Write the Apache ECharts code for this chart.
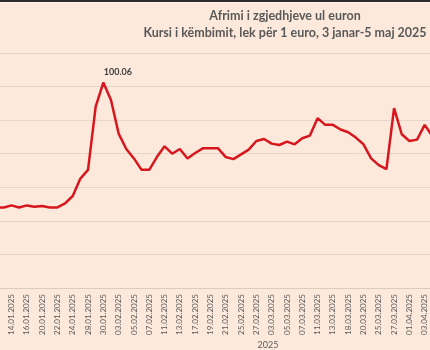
<!DOCTYPE html>
<html>
<head>
<meta charset="utf-8">
<script src="https://cdn.jsdelivr.net/npm/echarts@6/dist/echarts.min.js"></script>
<style>
html,body{margin:0;padding:0;background:#fde9dc;}
#c{width:430px;height:350px;}
</style>
</head>
<body>
<div id="c"></div>
<script>
const categories = ['10.01.2025','13.01.2025','14.01.2025','15.01.2025','16.01.2025','17.01.2025','20.01.2025','21.01.2025','22.01.2025','23.01.2025','24.01.2025','27.01.2025','28.01.2025','29.01.2025','30.01.2025','31.01.2025','03.02.2025','04.02.2025','05.02.2025','06.02.2025','07.02.2025','10.02.2025','11.02.2025','12.02.2025','13.02.2025','14.02.2025','17.02.2025','18.02.2025','19.02.2025','20.02.2025','21.02.2025','24.02.2025','25.02.2025','26.02.2025','27.02.2025','28.02.2025','03.03.2025','04.03.2025','05.03.2025','06.03.2025','07.03.2025','10.03.2025','11.03.2025','12.03.2025','13.03.2025','17.03.2025','18.03.2025','19.03.2025','20.03.2025','21.03.2025','25.03.2025','26.03.2025','27.03.2025','28.03.2025','01.04.2025','02.04.2025','03.04.2025','04.04.2025','07.04.2025'];
const rates = [98.20,98.20,98.23,98.20,98.23,98.21,98.22,98.20,98.20,98.26,98.37,98.63,98.76,99.70,100.06,99.80,99.30,99.07,98.93,98.76,98.76,98.95,99.11,99.00,99.07,98.93,99.01,99.08,99.08,99.08,98.95,98.92,98.99,99.06,99.19,99.22,99.15,99.13,99.18,99.14,99.23,99.27,99.53,99.43,99.43,99.36,99.32,99.24,99.14,98.93,98.83,98.77,99.68,99.29,99.19,99.21,99.43,99.26,99.20];
const yMin = 97, yMax = 100.5, yStep = 0.5;
const titleLines = ['Afrimi i zgjedhjeve ul euron', 'Kursi i këmbimit, lek për 1 euro, 3 janar-5 maj 2025'];
const axisName = '2025';
const peakIndex = 14;

const font = 'Lato, "Liberation Sans", sans-serif';
const chart = echarts.init(document.getElementById('c'), null, {renderer:'canvas'});
const seriesData = rates.map((v, i) => i === peakIndex ? {
  value: v,
  symbol: 'circle', symbolSize: 1,
  itemStyle: {color:'#d7161e'},
  label: {show:true, position:'right', distance:0, offset:[0,-10], formatter: p => Number(p.value).toFixed(2),
          color:'#404040', fontSize:9, fontWeight:'bold', fontFamily:font}
} : v);

chart.setOption({
  backgroundColor:'#fde9dc',
  animation:false,
  grid:{left:-3.8, right:-10, top:53, bottom:62, containLabel:false, outerBoundsMode:'none'},
  xAxis:{
    type:'category', data:categories, boundaryGap:false,
    axisLine:{show:true, lineStyle:{color:'#dccbbf', width:1}},
    axisTick:{show:false},
    axisLabel:{rotate:90, fontSize:8, color:'#595959', fontFamily:font, margin:6,
      interval:(idx) => idx >= 2 && idx % 2 === 0},
    splitLine:{show:false}
  },
  yAxis:{
    type:'value', min:yMin, max:yMax, interval:yStep,
    axisLabel:{show:false}, axisLine:{show:false}, axisTick:{show:false},
    splitLine:{show:true, lineStyle:{color:'#e6d5ca', width:1}}
  },
  series:[{
    type:'line', data:seriesData, symbol:'none', showSymbol:true, clip:false,
    lineStyle:{color:'#d7161e', width:2.5}, z:3
  }],
  graphic:[
    {type:'rect', shape:{x:0,y:0,width:430,height:2}, style:{fill:'#2b2b2b'}},
    {type:'rect', shape:{x:0,y:2,width:430,height:1}, style:{fill:'#fff7f2'}},
    {type:'text', x:285, y:16, style:{text:titleLines[0], textAlign:'center', textVerticalAlign:'middle',
      fill:'#595959', font:'bold 12.5px ' + font}},
    {type:'text', x:285, y:33, style:{text:titleLines[1], textAlign:'center', textVerticalAlign:'middle',
      fill:'#595959', font:'bold 12.5px ' + font}},
    {type:'text', x:268, y:345, style:{text:axisName, textAlign:'center', textVerticalAlign:'middle',
      fill:'#595959', font:'9px ' + font}}
  ]
});
</script>
</body>
</html>
